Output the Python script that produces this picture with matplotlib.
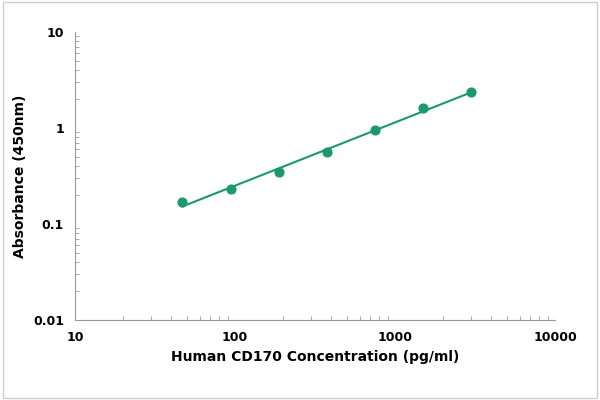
import numpy as np
import matplotlib.pyplot as plt

# Data
conc = np.array([46.875, 93.75, 187.5, 375, 750, 1500, 3000])
absorb = np.array([0.17, 0.23, 0.35, 0.56, 0.95, 1.6, 2.37])

# power fit (linear in log-log)
coef = np.polyfit(np.log10(conc), np.log10(absorb), 1)
x_fit = np.logspace(np.log10(conc.min()), np.log10(conc.max()), 50)
y_fit = 10 ** np.polyval(coef, np.log10(x_fit))

fig = plt.figure(figsize=(6, 4), dpi=100)
ax = fig.add_axes([0.125, 0.2, 0.8, 0.72])
green = '#1a9a6a'
ax.plot(x_fit, y_fit, color=green, lw=1.5)
ax.scatter(conc, absorb, color=green, s=40, zorder=3)

ax.set_xscale('log')
ax.set_yscale('log')
ax.set_xlim(10, 10000)
ax.set_ylim(0.01, 10)
ax.set_xticks([10, 100, 1000, 10000])
ax.set_xticklabels(['10', '100', '1000', '10000'], fontweight='bold')
ax.set_yticks([0.01, 0.1, 1, 10])
ax.set_yticklabels(['0.01', '0.1', '1', '10'], fontweight='bold')
ax.tick_params(labelsize=9, which='both', direction='in', color='#999999')
ax.tick_params(which='major', length=0, pad=8)
ax.tick_params(which='minor', length=3)
for s in ['top', 'right']:
    ax.spines[s].set_visible(False)
for s in ['left', 'bottom']:
    ax.spines[s].set_color('#999999')
ax.set_xlabel('Human CD170 Concentration (pg/ml)', fontsize=10, fontweight='bold')
ax.set_ylabel('Absorbance (450nm)', fontsize=10, fontweight='bold')

fig.patches.append(plt.Rectangle((0.005, 0.005), 0.99, 0.99, transform=fig.transFigure,
                                 fill=False, edgecolor='#cccccc', lw=1))
fig.savefig('out.png')
